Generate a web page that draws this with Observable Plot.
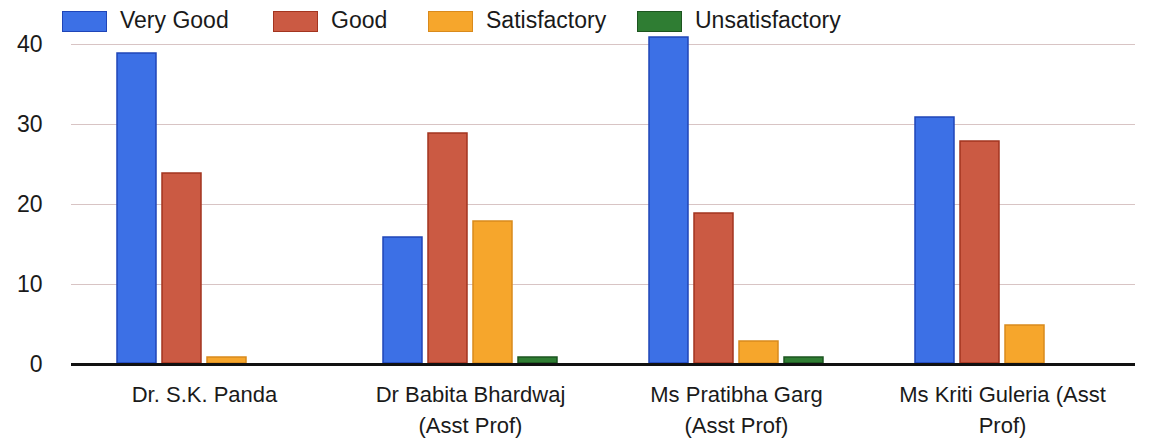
<!DOCTYPE html>
<html>
<head>
<meta charset="utf-8">
<script src="https://cdn.jsdelivr.net/npm/d3@7"></script>
<script src="https://cdn.jsdelivr.net/npm/@observablehq/plot@0.6"></script>
<style>
  html, body { margin: 0; padding: 0; background: #ffffff; }
  body { width: 1165px; height: 439px; overflow: hidden; font-family: "Liberation Sans", Arial, sans-serif; }
  #legend { position: relative; height: 36px; width: 1165px; }
  .item { position: absolute; top: 0; height: 36px; }
  .sw { position: absolute; top: 11px; left: 0; width: 45px; height: 21px; box-sizing: border-box; border: 1.5px solid; }
  .lab { position: absolute; top: 7px; white-space: nowrap; font-size: 23px; color: #1a1a1a; line-height: 26px; }
</style>
</head>
<body>
<div id="legend"></div>
<div id="chart"></div>
<script>
// ---- data ----
const teachers = ["Dr. S.K. Panda", "Dr Babita Bhardwaj (Asst Prof)", "Ms Pratibha Garg (Asst Prof)", "Ms Kriti Guleria (Asst Prof)"];
const tickLabels = ["Dr. S.K. Panda", "Dr Babita Bhardwaj\n(Asst Prof)", "Ms Pratibha Garg\n(Asst Prof)", "Ms Kriti Guleria (Asst\nProf)"];
const series = ["Very Good", "Good", "Satisfactory", "Unsatisfactory"];
const veryGood = [39, 16, 41, 31];
const good = [24, 29, 19, 28];
const satisfactory = [1, 18, 3, 5];
const unsatisfactory = [0, 1, 1, 0];
const yTicks = [0, 10, 20, 30, 40];
const colors = ["#3c70e6", "#cb5a43", "#f6a62c", "#2f7d33"];
const edges = ["#1f45b8", "#a3341f", "#d98a1c", "#1d5520"];
const legendLeft = [62, 273, 428, 637];

const values = [veryGood, good, satisfactory, unsatisfactory];
const data = [];
teachers.forEach((t, i) => series.forEach((s, j) => data.push({teacher: t, rating: s, value: values[j][i]})));

// ---- legend ----
const legend = document.getElementById("legend");
series.forEach((s, i) => {
  const item = document.createElement("div");
  item.className = "item";
  item.style.left = legendLeft[i] + "px";
  const sw = document.createElement("div");
  sw.className = "sw";
  sw.style.background = colors[i];
  sw.style.borderColor = edges[i];
  const lab = document.createElement("div");
  lab.className = "lab";
  lab.style.left = "58px";
  lab.textContent = s;
  item.appendChild(sw);
  item.appendChild(lab);
  legend.appendChild(item);
});

// ---- chart ----
const font = "'Liberation Sans', Arial, sans-serif";
const chart = Plot.plot({
  width: 1165,
  height: 403,
  marginLeft: 70,
  marginRight: 30,
  marginTop: 8,
  marginBottom: 75,
  style: {fontFamily: font, fontSize: "22px", color: "#1a1a1a", background: "#ffffff", overflow: "visible"},
  fx: {domain: teachers, paddingInner: 0, paddingOuter: 0, label: null},
  x: {domain: series, axis: null, paddingInner: 0.1, paddingOuter: 1.0},
  y: {domain: [0, 40], axis: null},
  marks: [
    Plot.gridY(yTicks, {stroke: "#d8c4c4", strokeOpacity: 1, strokeWidth: 1}),
    Plot.axisY(yTicks, {tickSize: 0, tickPadding: 29, fontSize: 23, label: null, fill: "#1a1a1a"}),
    ...series.map((s, i) => Plot.barY(data, {
      filter: d => d.rating === s && d.value > 0,
      fx: "teacher", x: "rating", y: "value",
      fill: colors[i], stroke: edges[i], strokeWidth: 1.5, inset: 1
    })),
    Plot.ruleY([0], {stroke: "#111111", strokeWidth: 3}),
    Plot.axisFx({
      anchor: "bottom", tickSize: 0, tickPadding: 16, fontSize: 22, lineHeight: 1.4, label: null, fill: "#1a1a1a",
      tickFormat: d => tickLabels[teachers.indexOf(d)]
    })
  ]
});
document.getElementById("chart").appendChild(chart);
</script>
</body>
</html>
